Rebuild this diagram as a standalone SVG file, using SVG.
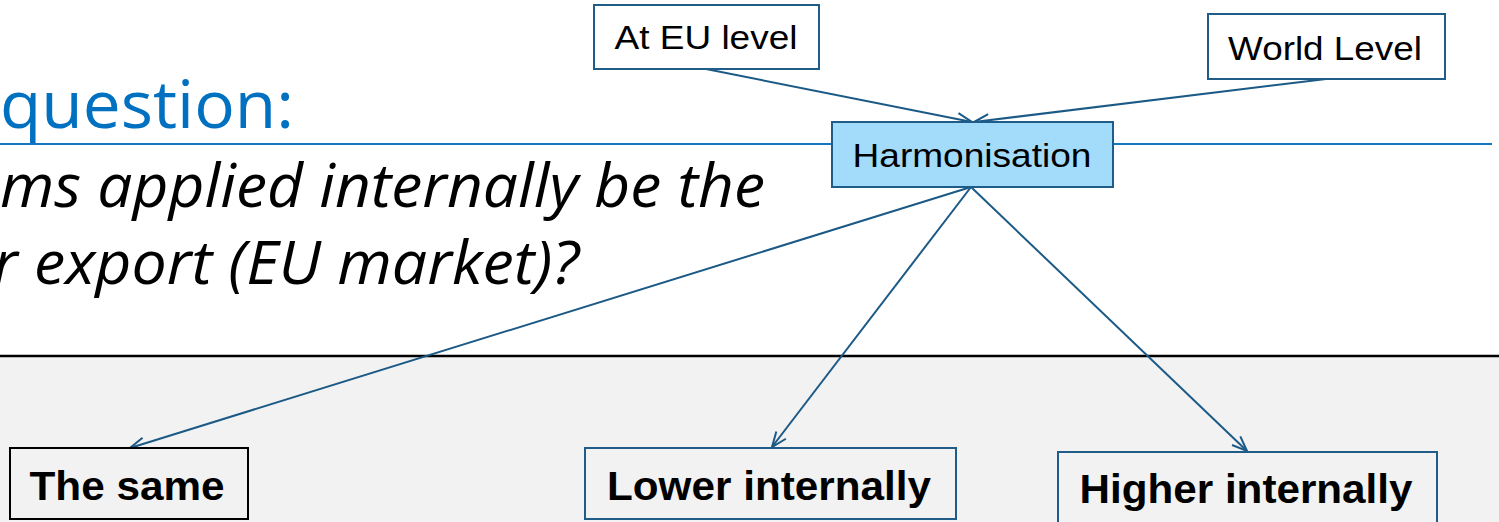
<svg xmlns="http://www.w3.org/2000/svg" width="1499" height="522" viewBox="0 0 1499 522">
<style>
.box{stroke:#1f5d88;stroke-width:2}
.lbl{font-family:"Liberation Sans",Arial,sans-serif;fill:#000}
.bold{font-weight:bold}
.conn{stroke:#1b5a86;stroke-width:2;fill:none;marker-end:url(#arr)}
.title{font-family:"Open Sans","Noto Sans",sans-serif;fill:#0070c0}
.q{font-family:"Open Sans","Noto Sans",sans-serif;font-style:italic;fill:#000}
</style>
<defs>
<marker id="arr" markerUnits="userSpaceOnUse" viewBox="0 0 18 14" markerWidth="18" markerHeight="14" refX="16" refY="7" orient="auto">
<path d="M1,1 L16,7 L1,13" fill="none" stroke="#1b5a86" stroke-width="2"/>
</marker>
</defs>
<rect x="0" y="0" width="1499" height="522" fill="#ffffff"/>
<rect x="0" y="356" width="1499" height="166" fill="#f2f2f2"/>
<line x1="0" y1="356" x2="1499" y2="356" stroke="#000" stroke-width="2.5"/>
<line x1="0" y1="144" x2="1492" y2="144" stroke="#1378c0" stroke-width="2"/>
<text class="title" x="0" y="128" font-size="66" textLength="294" lengthAdjust="spacingAndGlyphs">question:</text>
<text class="q" x="765" y="207" font-size="60" text-anchor="end" textLength="765" lengthAdjust="spacingAndGlyphs">ms applied internally be the</text>
<text class="q" x="579" y="284" font-size="60" text-anchor="end" textLength="586" lengthAdjust="spacingAndGlyphs">r export (EU market)?</text>
<g id="connectors">
<line class="conn" x1="706" y1="69" x2="972" y2="122"/>
<line class="conn" x1="1326" y1="79" x2="974" y2="122"/>
<line class="conn" x1="971" y1="187" x2="130" y2="448"/>
<line class="conn" x1="971" y1="187" x2="772" y2="447"/>
<line class="conn" x1="971" y1="187" x2="1247" y2="451"/>
</g>
<g id="eu">
<rect class="box" x="594" y="5" width="225" height="64" fill="#fff"/>
<text class="lbl" x="706" y="49" font-size="33" text-anchor="middle" textLength="183" lengthAdjust="spacingAndGlyphs">At EU level</text>
</g>
<g id="world">
<rect class="box" x="1208" y="14" width="237" height="65" fill="#fff"/>
<text class="lbl" x="1325" y="60" font-size="33" text-anchor="middle" textLength="194" lengthAdjust="spacingAndGlyphs">World Level</text>
</g>
<g id="harmonisation">
<rect class="box" x="832" y="122" width="281" height="65" fill="#a3dcfa"/>
<text class="lbl" x="972" y="167" font-size="34" text-anchor="middle" textLength="239" lengthAdjust="spacingAndGlyphs">Harmonisation</text>
</g>
<g id="same">
<rect x="10" y="448" width="238" height="71" fill="#f2f2f2" stroke="#000" stroke-width="2"/>
<text class="lbl bold" x="127" y="500" font-size="41" text-anchor="middle" textLength="195" lengthAdjust="spacingAndGlyphs">The same</text>
</g>
<g id="lower">
<rect class="box" x="585" y="448" width="371" height="71" fill="#f2f2f2"/>
<text class="lbl bold" x="769" y="500" font-size="41" text-anchor="middle" textLength="324" lengthAdjust="spacingAndGlyphs">Lower internally</text>
</g>
<g id="higher">
<rect class="box" x="1058" y="452" width="379" height="72" fill="#f2f2f2"/>
<text class="lbl bold" x="1246" y="503" font-size="41" text-anchor="middle" textLength="333" lengthAdjust="spacingAndGlyphs">Higher internally</text>
</g>
</svg>
